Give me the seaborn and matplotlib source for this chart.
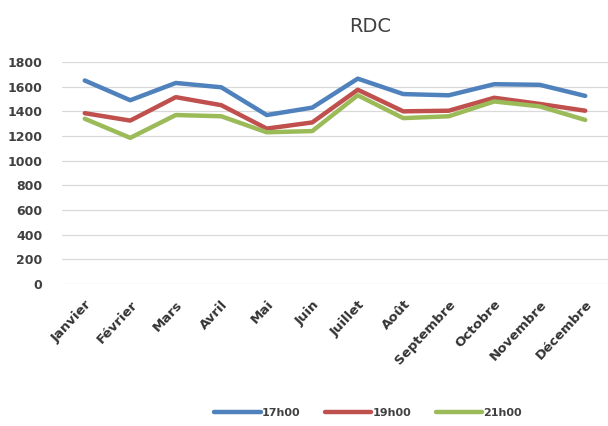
import matplotlib
matplotlib.use("Agg")
import matplotlib.pyplot as plt
import seaborn as sns
import pandas as pd

months = ["Janvier", "Février", "Mars", "Avril", "Mai", "Juin", "Juillet",
          "Août", "Septembre", "Octobre", "Novembre", "Décembre"]
s17 = [1650, 1490, 1630, 1595, 1370, 1430, 1665, 1540, 1530, 1620, 1615, 1525]
s19 = [1385, 1325, 1515, 1450, 1260, 1310, 1575, 1400, 1405, 1510, 1460, 1405]
s21 = [1340, 1185, 1370, 1360, 1230, 1240, 1530, 1345, 1360, 1480, 1440, 1330]
series_names = ["17h00", "19h00", "21h00"]
yticks = [0, 200, 400, 600, 800, 1000, 1200, 1400, 1600, 1800]

df = pd.DataFrame({
    "Mois": months * 3,
    "Valeur": s17 + s19 + s21,
    "Série": [series_names[0]] * 12 + [series_names[1]] * 12 + [series_names[2]] * 12,
})

sns.set_style("white")
plt.rcParams['font.family'] = ['DejaVu Sans']

fig = plt.figure(figsize=(6.08, 4.26), dpi=100)
ax = fig.add_axes([62 / 608, 1 - 284 / 426, (608 - 62) / 608, (284 - 62) / 426])

palette = {"17h00": "#4F81BD", "19h00": "#C0504D", "21h00": "#9BBB59"}
sns.lineplot(data=df, x="Mois", y="Valeur", hue="Série", palette=palette,
             sort=False, linewidth=3.2, ax=ax, legend=False)

ax.set_ylim(0, 1800)
ax.set_yticks(yticks)
ax.set_xlim(-0.5, 11.5)
ax.set_xlabel("")
ax.set_ylabel("")
ax.grid(axis="y", color="#D9D9D9", linewidth=0.9)
ax.set_axisbelow(True)
for sp in ax.spines.values():
    sp.set_visible(False)
ax.tick_params(axis="both", length=0, colors="#404040")
ax.tick_params(axis="y", pad=14)
ax.tick_params(axis="x", pad=10)
for lab in ax.get_yticklabels():
    lab.set_fontweight("bold")
    lab.set_fontsize(9)
    lab.set_color("#404040")
ax.set_xticks(range(len(months)))
ax.set_xticklabels(months, rotation=47, ha="right", rotation_mode="anchor",
                   fontsize=9.5, fontweight="bold", color="#333333")

fig.text(370 / 608, 1 - 27 / 426, "RDC", ha="center", va="center",
         fontsize=14, color="#404040")

from matplotlib.lines import Line2D
handles = [Line2D([0], [0], color=palette[n], lw=3.2) for n in series_names]
fig.legend(handles, series_names, loc="center", bbox_to_anchor=(368 / 608, 1 - 413 / 426),
           ncol=3, frameon=False, handlelength=4.2, handletextpad=0.1,
           columnspacing=2.2, prop={"weight": "bold", "size": 8})
for t in fig.legends[0].get_texts():
    t.set_color("#404040")

fig.savefig("out.png", dpi=100, facecolor="white")
